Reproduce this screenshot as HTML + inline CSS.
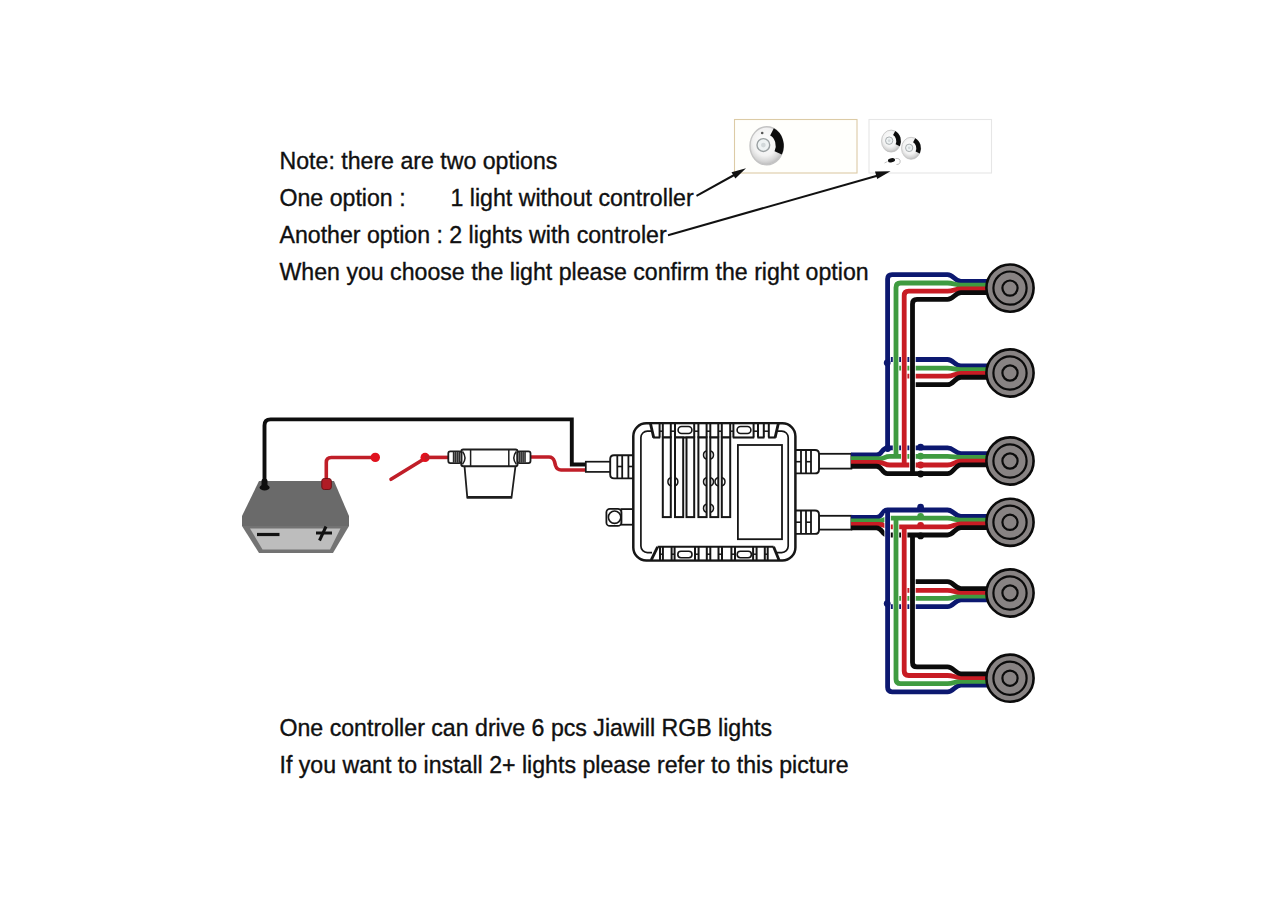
<!DOCTYPE html>
<html><head><meta charset="utf-8"><style>
html,body{margin:0;padding:0;background:#fff;width:1280px;height:900px;overflow:hidden;}
svg{display:block;font-family:"Liberation Sans",sans-serif;}
</style></head><body>
<svg width="1280" height="900" viewBox="0 0 1280 900">
<rect width="1280" height="900" fill="#fff"/>
<text x="279.5" y="169" font-family="Liberation Sans, sans-serif" font-size="23.15" fill="#101010" stroke="#101010" stroke-width="0.35">Note: there are two options</text>
<text x="279.5" y="206" font-family="Liberation Sans, sans-serif" font-size="23.15" fill="#101010" stroke="#101010" stroke-width="0.35">One option :</text>
<text x="450.5" y="206" font-family="Liberation Sans, sans-serif" font-size="23.15" fill="#101010" stroke="#101010" stroke-width="0.35">1 light without controller</text>
<text x="279.5" y="243" font-family="Liberation Sans, sans-serif" font-size="23.15" fill="#101010" stroke="#101010" stroke-width="0.35">Another option : 2 lights with controler</text>
<text x="279.5" y="280" font-family="Liberation Sans, sans-serif" font-size="23.15" fill="#101010" stroke="#101010" stroke-width="0.35">When you choose the light please confirm the right option</text>
<text x="279.5" y="736.1" font-family="Liberation Sans, sans-serif" font-size="23.15" fill="#101010" stroke="#101010" stroke-width="0.35">One controller can drive 6 pcs Jiawill RGB lights</text>
<text x="279.5" y="773.1" font-family="Liberation Sans, sans-serif" font-size="23.15" fill="#101010" stroke="#101010" stroke-width="0.35">If you want to install 2+ lights please refer to this picture</text>
<rect x="734.5" y="119.5" width="122.5" height="53.5" fill="#fffffc" stroke="#dccba6" stroke-width="1.1"/>
<rect x="869" y="119.5" width="122.5" height="53.5" fill="#fff" stroke="#e6e6e6" stroke-width="1.1"/>
<defs><radialGradient id="chrome" cx="0.45" cy="0.4" r="0.6"><stop offset="0" stop-color="#ffffff"/><stop offset="0.6" stop-color="#f2f2f2"/><stop offset="0.85" stop-color="#d6d6d6"/><stop offset="1" stop-color="#bdbdbd"/></radialGradient></defs>
<ellipse cx="766.7" cy="145.8" rx="16.7" ry="19" fill="url(#chrome)" stroke="#c4c4c4" stroke-width="1.4"/>
<path d="M772.00,131.91 A13.026,15.200000000000001 0 0 1 778.20,152.94" fill="none" stroke="#0c0c0c" stroke-width="8.016"/>
<ellipse cx="763.36" cy="145.04000000000002" rx="6.346" ry="6.460000000000001" fill="#eef2f3" stroke="#9aa0a2" stroke-width="1.4"/>
<circle cx="763.36" cy="145.04000000000002" r="2.338" fill="#d2d8da"/>
<circle cx="762.2" cy="133" r="1.3" fill="#555"/>
<ellipse cx="891.1" cy="141.1" rx="9.6" ry="11" fill="url(#chrome)" stroke="#c4c4c4" stroke-width="0.84"/>
<path d="M894.15,133.06 A7.4879999999999995,8.8 0 0 1 897.71,145.23" fill="none" stroke="#0c0c0c" stroke-width="4.608"/>
<ellipse cx="889.1800000000001" cy="140.66" rx="3.6479999999999997" ry="3.74" fill="#eef2f3" stroke="#9aa0a2" stroke-width="0.84"/>
<circle cx="889.1800000000001" cy="140.66" r="1.344" fill="#d2d8da"/>
<ellipse cx="911.1" cy="148.3" rx="9.6" ry="11" fill="url(#chrome)" stroke="#c4c4c4" stroke-width="0.84"/>
<path d="M914.15,140.26 A7.4879999999999995,8.8 0 0 1 917.71,152.43" fill="none" stroke="#0c0c0c" stroke-width="4.608"/>
<ellipse cx="909.1800000000001" cy="147.86" rx="3.6479999999999997" ry="3.74" fill="#eef2f3" stroke="#9aa0a2" stroke-width="0.84"/>
<circle cx="909.1800000000001" cy="147.86" r="1.344" fill="#d2d8da"/>
<ellipse cx="891.5" cy="160.3" rx="3.6" ry="2.1" fill="#111" transform="rotate(-12 891.5 160.3)"/>
<path d="M895.5,158.5 Q901,158 900,162.5 Q899,165 896.5,164.5" fill="none" stroke="#b5b5b5" stroke-width="0.9"/>
<path d="M887.5,161.5 L884.5,163" stroke="#bbb" stroke-width="0.9"/>
<line x1="696.5" y1="195.8" x2="736" y2="174" stroke="#111" stroke-width="2"/>
<path d="M746,168.3 L731.5,172.2 L735.4,178.6Z" fill="#111"/>
<line x1="668" y1="235.2" x2="878" y2="175.5" stroke="#111" stroke-width="2"/>
<path d="M890.5,171.2 L875,171.6 L877.2,179Z" fill="#111"/>
<path d="M259,481 H334 L349,516 V526 H242 V516Z" fill="#6a6a6a"/>
<path d="M242,526 H349 L333,553 H259Z" fill="#737373"/>
<path d="M250,528.5 H340.5 L330,549.5 H262.5Z" fill="#bdbdbd"/>
<line x1="257" y1="534.5" x2="279.5" y2="534.5" stroke="#121212" stroke-width="3.2"/>
<line x1="316" y1="533" x2="332" y2="533" stroke="#121212" stroke-width="3"/>
<line x1="326" y1="526.5" x2="319.5" y2="540.5" stroke="#121212" stroke-width="3"/>
<path d="M264.5,484 V425.5 Q264.5,419.4 270.6,419.4 H571.8 V464.5 H587" fill="none" stroke="#0e0e0e" stroke-width="3.9"/>
<path d="M261.5,488 V481 Q261.5,478.5 264.5,478.5 Q267.5,478.5 267.5,481 V488Z" fill="#0e0e0e"/><ellipse cx="264.6" cy="487.5" rx="5" ry="3" fill="#0e0e0e"/>
<path d="M326.3,482 V462.5 Q326.3,457.5 331.3,457.5 H375" fill="none" stroke="#c01e28" stroke-width="3.6"/>
<rect x="321.8" y="478.5" width="9.5" height="11" rx="2.5" fill="#b01c25" stroke="#6e1015" stroke-width="1"/>
<circle cx="375.3" cy="457.4" r="4.7" fill="#e0121e"/>
<line x1="391" y1="479.3" x2="424" y2="459" stroke="#c01e28" stroke-width="3.6" stroke-linecap="round"/>
<circle cx="425.1" cy="457.4" r="4.6" fill="#e0121e"/>
<path d="M425,457.4 H449" fill="none" stroke="#c01e28" stroke-width="3.6"/>
<path d="M530,457 H549 Q553,457 554.5,461.5 L555.5,465.5 Q557,470 561,470 H587" fill="none" stroke="#c01e28" stroke-width="3.6"/>
<path d="M464.5,466 L467.3,497.5 H511.5 L515.5,466" stroke="#1e1e1e" fill="#fff" stroke-width="1.8"/>
<line x1="467" y1="497.3" x2="512" y2="497.3" stroke="#1e1e1e" stroke-width="2.6"/>
<rect x="461.3" y="449.6" width="56.2" height="16.6" rx="2" stroke="#1e1e1e" fill="#fff" stroke-width="2"/>
<line x1="470.6" y1="450" x2="470.6" y2="466" stroke="#1e1e1e" stroke-width="1.5"/>
<line x1="508.8" y1="450" x2="508.8" y2="466" stroke="#1e1e1e" stroke-width="1.5"/>
<path d="M462.5,451.5 Q467.5,457.9 462.5,464.3" fill="none" stroke="#1e1e1e" stroke-width="1.5"/>
<path d="M516.3,451.5 Q511.3,457.9 516.3,464.3" fill="none" stroke="#1e1e1e" stroke-width="1.5"/>
<rect x="448.3" y="451.3" width="13" height="11.8" rx="2" stroke="#1e1e1e" fill="#fff" stroke-width="1.8"/>
<rect x="517.5" y="451.3" width="13" height="11.8" rx="2" stroke="#1e1e1e" fill="#fff" stroke-width="1.8"/>
<rect x="452.8" y="451.8" width="7.2" height="10.8" fill="#2a2a2a"/>
<line x1="454.6" y1="452" x2="454.6" y2="462.4" stroke="#9a9a9a" stroke-width="0.6"/>
<line x1="456.5" y1="452" x2="456.5" y2="462.4" stroke="#9a9a9a" stroke-width="0.6"/>
<line x1="458.40000000000003" y1="452" x2="458.40000000000003" y2="462.4" stroke="#9a9a9a" stroke-width="0.6"/>
<rect x="518.6" y="451.8" width="7.2" height="10.8" fill="#2a2a2a"/>
<line x1="520.4" y1="452" x2="520.4" y2="462.4" stroke="#9a9a9a" stroke-width="0.6"/>
<line x1="522.3" y1="452" x2="522.3" y2="462.4" stroke="#9a9a9a" stroke-width="0.6"/>
<line x1="524.1999999999999" y1="452" x2="524.1999999999999" y2="462.4" stroke="#9a9a9a" stroke-width="0.6"/>
<rect x="585.8" y="461.7" width="25" height="10.2" fill="#fff" stroke="#161616" stroke-width="1.7"/>
<path d="M633,455.3 H614 Q610.2,455.3 610.2,459.1 V474.6 Q610.2,478.4 614,478.4 H633" fill="#fff" stroke="#161616" stroke-width="1.9"/>
<line x1="617.3" y1="455.5" x2="617.3" y2="478.2" stroke="#161616" stroke-width="1.8"/>
<line x1="622.2" y1="455.5" x2="622.2" y2="478.2" stroke="#161616" stroke-width="1.8"/>
<line x1="628.4" y1="455.5" x2="628.4" y2="478.2" stroke="#161616" stroke-width="1.8"/>
<line x1="617.3" y1="466.5" x2="622.2" y2="466.5" stroke="#161616" stroke-width="1.6"/>
<line x1="628.4" y1="466.5" x2="633" y2="466.5" stroke="#161616" stroke-width="1.6"/>
<rect x="621.3" y="509.1" width="11.8" height="15.6" fill="#fff" stroke="#161616" stroke-width="1.8"/>
<rect x="606.4" y="508.8" width="14.9" height="17.1" rx="3.5" fill="#fff" stroke="#161616" stroke-width="1.8"/>
<circle cx="614.6" cy="517.2" r="6.2" fill="#fff" stroke="#161616" stroke-width="1.6"/>
<rect x="818" y="453.8" width="33.4" height="14.800000000000011" fill="#fff" stroke="#161616" stroke-width="1.8"/>
<path d="M795,450.0 H815 Q819,450.0 819,454.0 V469.4 Q819,473.4 815,473.4 H795" fill="#fff" stroke="#161616" stroke-width="1.9"/>
<line x1="801" y1="450.2" x2="801" y2="473.2" stroke="#161616" stroke-width="1.8"/>
<line x1="806" y1="450.2" x2="806" y2="473.2" stroke="#161616" stroke-width="1.8"/>
<line x1="811" y1="450.2" x2="811" y2="473.2" stroke="#161616" stroke-width="1.8"/>
<line x1="796" y1="461.7" x2="801" y2="461.7" stroke="#161616" stroke-width="1.6"/>
<line x1="806" y1="461.7" x2="811" y2="461.7" stroke="#161616" stroke-width="1.6"/>
<rect x="818" y="515.8" width="33.4" height="13.800000000000068" fill="#fff" stroke="#161616" stroke-width="1.8"/>
<path d="M795,510.50000000000006 H815 Q819,510.50000000000006 819,514.5 V529.9000000000001 Q819,533.9000000000001 815,533.9000000000001 H795" fill="#fff" stroke="#161616" stroke-width="1.9"/>
<line x1="801" y1="510.70000000000005" x2="801" y2="533.7" stroke="#161616" stroke-width="1.8"/>
<line x1="806" y1="510.70000000000005" x2="806" y2="533.7" stroke="#161616" stroke-width="1.8"/>
<line x1="811" y1="510.70000000000005" x2="811" y2="533.7" stroke="#161616" stroke-width="1.8"/>
<line x1="796" y1="522.2" x2="801" y2="522.2" stroke="#161616" stroke-width="1.6"/>
<line x1="806" y1="522.2" x2="811" y2="522.2" stroke="#161616" stroke-width="1.6"/>
<rect x="633.3" y="423.3" width="162.1" height="137.1" rx="13" fill="#fff" stroke="#161616" stroke-width="2.5"/>
<rect x="640.9" y="431.1" width="147.3" height="121.5" rx="6.5" fill="none" stroke="#161616" stroke-width="1.7"/>
<rect x="652" y="424.6" width="125" height="12.6" fill="#fff"/>
<rect x="652" y="547.4" width="125" height="11.8" fill="#fff"/>
<line x1="650.5" y1="423.6" x2="653.7" y2="437.6" stroke="#161616" stroke-width="2.8"/>
<line x1="778.3" y1="423.6" x2="775.1" y2="437.6" stroke="#161616" stroke-width="2.8"/>
<line x1="657.6" y1="546.8" x2="651.2" y2="560.2" stroke="#161616" stroke-width="2.8"/>
<line x1="773.6" y1="546.8" x2="779.1" y2="560.2" stroke="#161616" stroke-width="2.8"/>
<line x1="653.1" y1="437.5" x2="660.2" y2="437.5" stroke="#161616" stroke-width="2.1"/>
<line x1="662.1999999999999" y1="437.5" x2="671.4" y2="437.5" stroke="#161616" stroke-width="2.1"/>
<line x1="674.4" y1="437.5" x2="694.8000000000001" y2="437.5" stroke="#161616" stroke-width="2.1"/>
<line x1="697.8" y1="437.5" x2="707.2" y2="437.5" stroke="#161616" stroke-width="2.1"/>
<line x1="709.6999999999999" y1="437.5" x2="718.9" y2="437.5" stroke="#161616" stroke-width="2.1"/>
<line x1="721.1999999999999" y1="437.5" x2="730.8000000000001" y2="437.5" stroke="#161616" stroke-width="2.1"/>
<line x1="732.8" y1="437.5" x2="754.2" y2="437.5" stroke="#161616" stroke-width="2.1"/>
<line x1="757.4" y1="437.5" x2="764.4" y2="437.5" stroke="#161616" stroke-width="2.1"/>
<line x1="768.1999999999999" y1="437.5" x2="775.7" y2="437.5" stroke="#161616" stroke-width="2.1"/>
<line x1="659.6" y1="423.5" x2="659.6" y2="437.5" stroke="#161616" stroke-width="2.0"/>
<line x1="662.8" y1="423.5" x2="662.8" y2="437.5" stroke="#161616" stroke-width="2.0"/>
<line x1="659.6" y1="431.2" x2="662.8" y2="431.2" stroke="#161616" stroke-width="1.5"/>
<line x1="670.8" y1="423.5" x2="670.8" y2="437.5" stroke="#161616" stroke-width="2.0"/>
<line x1="675" y1="423.5" x2="675" y2="437.5" stroke="#161616" stroke-width="2.0"/>
<line x1="670.8" y1="431.2" x2="675" y2="431.2" stroke="#161616" stroke-width="1.5"/>
<line x1="694.2" y1="423.5" x2="694.2" y2="437.5" stroke="#161616" stroke-width="2.0"/>
<line x1="698.4" y1="423.5" x2="698.4" y2="437.5" stroke="#161616" stroke-width="2.0"/>
<line x1="694.2" y1="431.2" x2="698.4" y2="431.2" stroke="#161616" stroke-width="1.5"/>
<line x1="706.6" y1="423.5" x2="706.6" y2="437.5" stroke="#161616" stroke-width="2.0"/>
<line x1="710.3" y1="423.5" x2="710.3" y2="437.5" stroke="#161616" stroke-width="2.0"/>
<line x1="706.6" y1="431.2" x2="710.3" y2="431.2" stroke="#161616" stroke-width="1.5"/>
<line x1="718.3" y1="423.5" x2="718.3" y2="437.5" stroke="#161616" stroke-width="2.0"/>
<line x1="721.8" y1="423.5" x2="721.8" y2="437.5" stroke="#161616" stroke-width="2.0"/>
<line x1="718.3" y1="431.2" x2="721.8" y2="431.2" stroke="#161616" stroke-width="1.5"/>
<line x1="730.2" y1="423.5" x2="730.2" y2="437.5" stroke="#161616" stroke-width="2.0"/>
<line x1="733.4" y1="423.5" x2="733.4" y2="437.5" stroke="#161616" stroke-width="2.0"/>
<line x1="730.2" y1="431.2" x2="733.4" y2="431.2" stroke="#161616" stroke-width="1.5"/>
<line x1="753.6" y1="423.5" x2="753.6" y2="437.5" stroke="#161616" stroke-width="2.0"/>
<line x1="758" y1="423.5" x2="758" y2="437.5" stroke="#161616" stroke-width="2.0"/>
<line x1="753.6" y1="431.2" x2="758" y2="431.2" stroke="#161616" stroke-width="1.5"/>
<line x1="763.8" y1="423.5" x2="763.8" y2="437.5" stroke="#161616" stroke-width="2.0"/>
<line x1="768.8" y1="423.5" x2="768.8" y2="437.5" stroke="#161616" stroke-width="2.0"/>
<line x1="763.8" y1="431.2" x2="768.8" y2="431.2" stroke="#161616" stroke-width="1.5"/>
<rect x="678.1" y="426.5" width="13.8" height="7" rx="3.5" fill="#fff" stroke="#161616" stroke-width="1.6"/>
<rect x="737.1" y="426.5" width="13.8" height="7" rx="3.5" fill="#fff" stroke="#161616" stroke-width="1.6"/>
<line x1="657.6" y1="546.8" x2="773.6" y2="546.8" stroke="#161616" stroke-width="2.1"/>
<line x1="660" y1="546.8" x2="660" y2="560.2" stroke="#161616" stroke-width="2.0"/>
<line x1="662.9" y1="546.8" x2="662.9" y2="560.2" stroke="#161616" stroke-width="2.0"/>
<line x1="660" y1="554.2" x2="662.9" y2="554.2" stroke="#161616" stroke-width="1.5"/>
<line x1="671.6" y1="546.8" x2="671.6" y2="560.2" stroke="#161616" stroke-width="2.0"/>
<line x1="674.6" y1="546.8" x2="674.6" y2="560.2" stroke="#161616" stroke-width="2.0"/>
<line x1="671.6" y1="554.2" x2="674.6" y2="554.2" stroke="#161616" stroke-width="1.5"/>
<line x1="695" y1="546.8" x2="695" y2="560.2" stroke="#161616" stroke-width="2.0"/>
<line x1="698.6" y1="546.8" x2="698.6" y2="560.2" stroke="#161616" stroke-width="2.0"/>
<line x1="695" y1="554.2" x2="698.6" y2="554.2" stroke="#161616" stroke-width="1.5"/>
<line x1="706.8" y1="546.8" x2="706.8" y2="560.2" stroke="#161616" stroke-width="2.0"/>
<line x1="710.3" y1="546.8" x2="710.3" y2="560.2" stroke="#161616" stroke-width="2.0"/>
<line x1="706.8" y1="554.2" x2="710.3" y2="554.2" stroke="#161616" stroke-width="1.5"/>
<line x1="718.5" y1="546.8" x2="718.5" y2="560.2" stroke="#161616" stroke-width="2.0"/>
<line x1="722" y1="546.8" x2="722" y2="560.2" stroke="#161616" stroke-width="2.0"/>
<line x1="718.5" y1="554.2" x2="722" y2="554.2" stroke="#161616" stroke-width="1.5"/>
<line x1="731.4" y1="546.8" x2="731.4" y2="560.2" stroke="#161616" stroke-width="2.0"/>
<line x1="735" y1="546.8" x2="735" y2="560.2" stroke="#161616" stroke-width="2.0"/>
<line x1="731.4" y1="554.2" x2="735" y2="554.2" stroke="#161616" stroke-width="1.5"/>
<line x1="753.1" y1="546.8" x2="753.1" y2="560.2" stroke="#161616" stroke-width="2.0"/>
<line x1="756.6" y1="546.8" x2="756.6" y2="560.2" stroke="#161616" stroke-width="2.0"/>
<line x1="753.1" y1="554.2" x2="756.6" y2="554.2" stroke="#161616" stroke-width="1.5"/>
<line x1="764.8" y1="546.8" x2="764.8" y2="560.2" stroke="#161616" stroke-width="2.0"/>
<line x1="767.7" y1="546.8" x2="767.7" y2="560.2" stroke="#161616" stroke-width="2.0"/>
<line x1="764.8" y1="554.2" x2="767.7" y2="554.2" stroke="#161616" stroke-width="1.5"/>
<rect x="677.8" y="551.3" width="14.2" height="6.5" rx="3.2" fill="#fff" stroke="#161616" stroke-width="1.6"/>
<rect x="737.1999999999999" y="551.3" width="14.2" height="6.5" rx="3.2" fill="#fff" stroke="#161616" stroke-width="1.6"/>
<rect x="662.8" y="437.5" width="8.0" height="79.6" fill="#fff" stroke="#161616" stroke-width="2.0"/>
<rect x="675" y="437.5" width="8.200000000000045" height="79.6" fill="#fff" stroke="#161616" stroke-width="2.0"/>
<rect x="686.5" y="437.5" width="7.7000000000000455" height="79.6" fill="#fff" stroke="#161616" stroke-width="2.0"/>
<rect x="698.4" y="437.5" width="8.200000000000045" height="79.6" fill="#fff" stroke="#161616" stroke-width="2.0"/>
<rect x="710.3" y="437.5" width="8.0" height="79.6" fill="#fff" stroke="#161616" stroke-width="2.0"/>
<rect x="721.8" y="437.5" width="8.400000000000091" height="79.6" fill="#fff" stroke="#161616" stroke-width="2.0"/>
<path d="M671.3,477.5 A4.3,4.3 0 0 0 671.3,485.9" fill="none" stroke="#161616" stroke-width="1.5"/>
<path d="M674.5,477.5 A4.3,4.3 0 0 1 674.5,485.9" fill="none" stroke="#161616" stroke-width="1.5"/>
<path d="M706.9,450.8 A4.3,4.3 0 0 0 706.9,459.2" fill="none" stroke="#161616" stroke-width="1.5"/>
<path d="M710.1,450.8 A4.3,4.3 0 0 1 710.1,459.2" fill="none" stroke="#161616" stroke-width="1.5"/>
<path d="M706.9,477.5 A4.3,4.3 0 0 0 706.9,485.9" fill="none" stroke="#161616" stroke-width="1.5"/>
<path d="M710.1,477.5 A4.3,4.3 0 0 1 710.1,485.9" fill="none" stroke="#161616" stroke-width="1.5"/>
<path d="M706.9,504.1 A4.3,4.3 0 0 0 706.9,512.5" fill="none" stroke="#161616" stroke-width="1.5"/>
<path d="M710.1,504.1 A4.3,4.3 0 0 1 710.1,512.5" fill="none" stroke="#161616" stroke-width="1.5"/>
<path d="M718.4,477.5 A4.3,4.3 0 0 0 718.4,485.9" fill="none" stroke="#161616" stroke-width="1.5"/>
<path d="M721.6,477.5 A4.3,4.3 0 0 1 721.6,485.9" fill="none" stroke="#161616" stroke-width="1.5"/>
<rect x="737.9" y="445" width="44.1" height="94.2" fill="#fff" stroke="#161616" stroke-width="1.8"/>
<path d="M887.6,359.5 H947.5 C953.5,359.5 955.0,365.975 961.0,365.975 H990" fill="none" stroke="#0c1870" stroke-width="4.8" />
<path d="M896.0,368.1 H947.5 C953.5,368.1 955.0,369.725 961.0,369.725 H990" fill="none" stroke="#3f9b40" stroke-width="4.8" />
<path d="M904.2,376.2 H947.5 C953.5,376.2 955.0,373.475 961.0,373.475 H990" fill="none" stroke="#c81c24" stroke-width="4.8" />
<path d="M912.5,384.7 H947.5 C953.5,384.7 955.0,377.225 961.0,377.225 H990" fill="none" stroke="#0b0b0b" stroke-width="4.8" />
<path d="M887.6,606.6 H947.5 C953.5,606.6 955.0,599.825 961.0,599.825 H990" fill="none" stroke="#0c1870" stroke-width="4.8" />
<path d="M896.0,598.4 H947.5 C953.5,598.4 955.0,596.075 961.0,596.075 H990" fill="none" stroke="#3f9b40" stroke-width="4.8" />
<path d="M904.2,590.3 H947.5 C953.5,590.3 955.0,592.325 961.0,592.325 H990" fill="none" stroke="#c81c24" stroke-width="4.8" />
<path d="M912.5,581.7 H947.5 C953.5,581.7 955.0,588.575 961.0,588.575 H990" fill="none" stroke="#0b0b0b" stroke-width="4.8" />
<path d="M851,454.975 H876.5 C882.5,454.975 881.5,447.8 887.5,447.8 H947.5 C953.5,447.8 955.0,453.575 961.0,453.575 H990" fill="none" stroke="#0c1870" stroke-width="4.8" />
<path d="M851,458.725 H879 C885,458.725 884,456.4 890,456.4 H947.5 C953.5,456.4 955.0,457.325 961.0,457.325 H990" fill="none" stroke="#3f9b40" stroke-width="4.8" />
<path d="M851,462.475 H879 C885,462.475 884,465.0 890,465.0 H947.5 C953.5,465.0 955.0,461.075 961.0,461.075 H990" fill="none" stroke="#c81c24" stroke-width="4.8" />
<path d="M851,466.225 H876.5 C882.5,466.225 881.5,473.6 887.5,473.6 H947.5 C953.5,473.6 955.0,464.825 961.0,464.825 H990" fill="none" stroke="#0b0b0b" stroke-width="4.8" />
<path d="M851,517.45 H876.5 C882.5,517.45 881.5,510.0 887.5,510.0 H947.5 C953.5,510.0 955.0,516.375 961.0,516.375 H990" fill="none" stroke="#0c1870" stroke-width="4.8" />
<path d="M851,520.95 H879 C885,520.95 884,518.2 890,518.2 H947.5 C953.5,518.2 955.0,520.125 961.0,520.125 H990" fill="none" stroke="#3f9b40" stroke-width="4.8" />
<path d="M851,524.45 H879 C885,524.45 884,526.8 890,526.8 H947.5 C953.5,526.8 955.0,523.875 961.0,523.875 H990" fill="none" stroke="#c81c24" stroke-width="4.8" />
<path d="M851,527.95 H876.5 C882.5,527.95 881.5,535.0 887.5,535.0 H947.5 C953.5,535.0 955.0,527.625 961.0,527.625 H990" fill="none" stroke="#0b0b0b" stroke-width="4.8" />
<path d="M887.6,279.6 V444.6" stroke="#fff" stroke-width="6.4"/>
<path d="M896.0,288.0 V453.2" stroke="#fff" stroke-width="6.4"/>
<path d="M904.2,296.2 V461.8" stroke="#fff" stroke-width="6.4"/>
<path d="M912.5,304.4 V470.40000000000003" stroke="#fff" stroke-width="6.4"/>
<path d="M887.6,513.1999999999999 V686.8" stroke="#fff" stroke-width="6.4"/>
<path d="M896.0,521.4 V678.7" stroke="#fff" stroke-width="6.4"/>
<path d="M904.2,529.9999999999999 V670.5" stroke="#fff" stroke-width="6.4"/>
<path d="M912.5,538.1999999999999 V661.9" stroke="#fff" stroke-width="6.4"/>
<path d="M887.6,447.8 V279.1 Q887.6,274.6 892.1,274.6 H947.5 C953.5,274.6 955.0,281.375 961.0,281.375 H990" fill="none" stroke="#0c1870" stroke-width="4.8" />
<path d="M887.6,510.0 V687.3 Q887.6,691.8 892.1,691.8 H947.5 C953.5,691.8 955.0,685.025 961.0,685.025 H990" fill="none" stroke="#0c1870" stroke-width="4.8" />
<path d="M896.0,456.4 V287.5 Q896.0,283.0 900.5,283.0 H947.5 C953.5,283.0 955.0,285.125 961.0,285.125 H990" fill="none" stroke="#3f9b40" stroke-width="4.8" />
<path d="M896.0,518.2 V679.2 Q896.0,683.7 900.5,683.7 H947.5 C953.5,683.7 955.0,681.275 961.0,681.275 H990" fill="none" stroke="#3f9b40" stroke-width="4.8" />
<path d="M904.2,465.0 V295.7 Q904.2,291.2 908.7,291.2 H947.5 C953.5,291.2 955.0,288.875 961.0,288.875 H990" fill="none" stroke="#c81c24" stroke-width="4.8" />
<path d="M904.2,526.8 V671.0 Q904.2,675.5 908.7,675.5 H947.5 C953.5,675.5 955.0,677.525 961.0,677.525 H990" fill="none" stroke="#c81c24" stroke-width="4.8" />
<path d="M912.5,473.6 V303.9 Q912.5,299.4 917.0,299.4 H947.5 C953.5,299.4 955.0,292.625 961.0,292.625 H990" fill="none" stroke="#0b0b0b" stroke-width="4.8" />
<path d="M912.5,535.0 V662.4 Q912.5,666.9 917.0,666.9 H947.5 C953.5,666.9 955.0,673.775 961.0,673.775 H990" fill="none" stroke="#0b0b0b" stroke-width="4.8" />
<circle cx="887.2" cy="362.8" r="3.4" fill="#0c1870"/>
<circle cx="887.2" cy="603.6" r="3.4" fill="#0c1870"/>
<circle cx="887.6" cy="448.5" r="3.4" fill="#0c1870"/>
<circle cx="920.6" cy="447.2" r="3.4" fill="#0c1870"/>
<circle cx="920.6" cy="456.1" r="3.4" fill="#3f9b40"/>
<circle cx="920.6" cy="465.0" r="3.4" fill="#c81c24"/>
<circle cx="920.6" cy="474.0" r="3.4" fill="#0b0b0b"/>
<circle cx="920.6" cy="507.2" r="3.4" fill="#0c1870"/>
<circle cx="920.6" cy="516.3" r="3.4" fill="#3f9b40"/>
<circle cx="920.6" cy="525.3" r="3.4" fill="#c81c24"/>
<circle cx="920.6" cy="535.9" r="3.4" fill="#0b0b0b"/>
<circle cx="1010.0" cy="288.1" r="23.6" fill="#888383" stroke="#0b0b0b" stroke-width="2.6"/>
<circle cx="1010.0" cy="288.1" r="16.6" fill="none" stroke="#0b0b0b" stroke-width="2.2"/>
<circle cx="1010.0" cy="288.1" r="7.6" fill="none" stroke="#0b0b0b" stroke-width="2.2"/>
<circle cx="1010.0" cy="373" r="23.6" fill="#888383" stroke="#0b0b0b" stroke-width="2.6"/>
<circle cx="1010.0" cy="373" r="16.6" fill="none" stroke="#0b0b0b" stroke-width="2.2"/>
<circle cx="1010.0" cy="373" r="7.6" fill="none" stroke="#0b0b0b" stroke-width="2.2"/>
<circle cx="1010.0" cy="461" r="23.6" fill="#888383" stroke="#0b0b0b" stroke-width="2.6"/>
<circle cx="1010.0" cy="461" r="16.6" fill="none" stroke="#0b0b0b" stroke-width="2.2"/>
<circle cx="1010.0" cy="461" r="7.6" fill="none" stroke="#0b0b0b" stroke-width="2.2"/>
<circle cx="1010.0" cy="522.3" r="23.6" fill="#888383" stroke="#0b0b0b" stroke-width="2.6"/>
<circle cx="1010.0" cy="522.3" r="16.6" fill="none" stroke="#0b0b0b" stroke-width="2.2"/>
<circle cx="1010.0" cy="522.3" r="7.6" fill="none" stroke="#0b0b0b" stroke-width="2.2"/>
<circle cx="1010.0" cy="593" r="23.6" fill="#888383" stroke="#0b0b0b" stroke-width="2.6"/>
<circle cx="1010.0" cy="593" r="16.6" fill="none" stroke="#0b0b0b" stroke-width="2.2"/>
<circle cx="1010.0" cy="593" r="7.6" fill="none" stroke="#0b0b0b" stroke-width="2.2"/>
<circle cx="1010.0" cy="678.2" r="23.6" fill="#888383" stroke="#0b0b0b" stroke-width="2.6"/>
<circle cx="1010.0" cy="678.2" r="16.6" fill="none" stroke="#0b0b0b" stroke-width="2.2"/>
<circle cx="1010.0" cy="678.2" r="7.6" fill="none" stroke="#0b0b0b" stroke-width="2.2"/>
</svg>
</body></html>
